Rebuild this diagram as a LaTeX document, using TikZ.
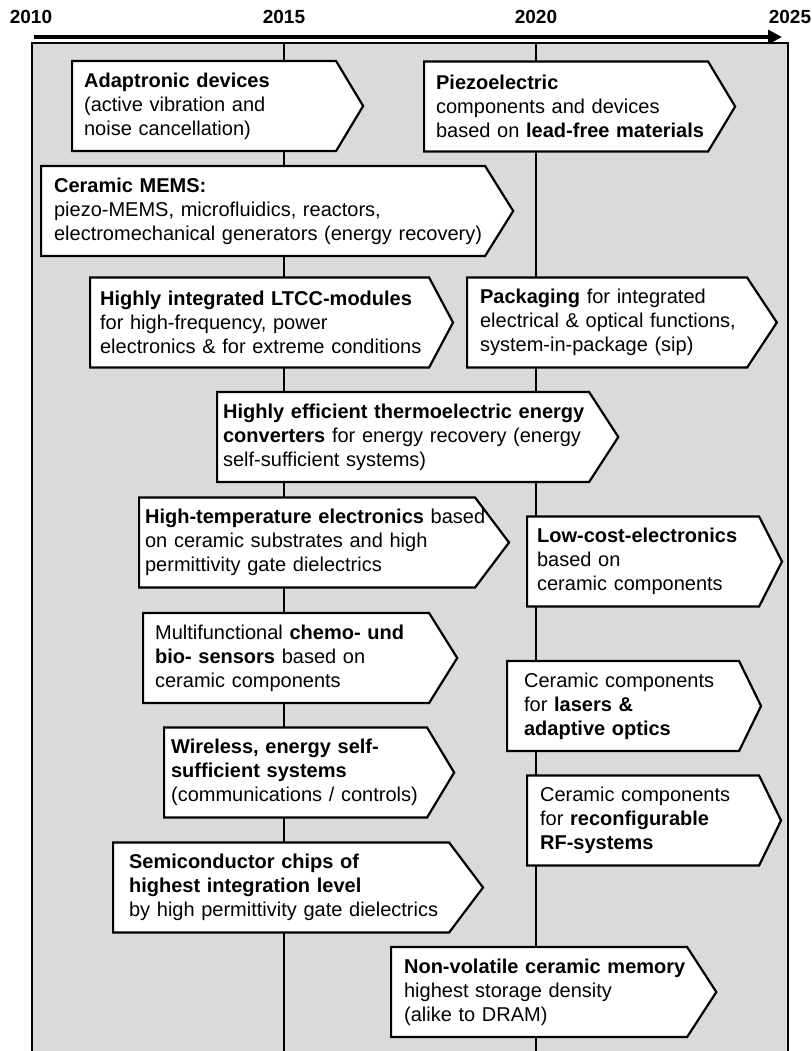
\documentclass[tikz,border=0pt]{standalone}
\usepackage{fontspec}
\setmainfont{Liberation Sans}
\usetikzlibrary{arrows.meta, shapes.symbols}
\definecolor{panelgray}{RGB}{218,218,218}
\tikzset{
    >=Latex,
    font=\fontsize{10}{12}\selectfont,
    tl_box/.style={
        signal,
        signal to=east,
        signal pointer angle=116,
        draw=black,
        fill=white,
        line width=1.1pt,
        anchor=west,
        minimum height=45pt,
        inner ysep=2pt,
        align=left
    },
    tl_year/.style={
        font=\fontsize{9.5}{11}\selectfont\bfseries,
        inner sep=0pt
    },
    tl_frame/.style={
        draw=black,
        line width=1.2pt
    },
    tl_grid/.style={
        draw=black,
        line width=1pt
    },
    tl_arrow/.style={
        -{Triangle[length=7pt, width=7pt]},
        line width=2pt
    }
}

\begin{document}
\begin{tikzpicture}[x=0.5pt, y=-0.5pt]
\useasboundingbox (0,0) rectangle (812,1051);

% --- Time axis ---
\node[tl_year] (y2010) at (31,17) {2010};
\node[tl_year] (y2015) at (284,17) {2015};
\node[tl_year] (y2020) at (536,17) {2020};
\node[tl_year] (y2025) at (790,17) {2025};
\coordinate (axisStart) at (34,37);
\coordinate (axisEnd) at (782,37);
\draw[tl_arrow] (axisStart) -- (axisEnd);

% --- Panel and year lines ---
\coordinate (panelTL) at (32,43);
\coordinate (panelTR) at (788,43);
\coordinate (panelBL) at (32,1051);
\coordinate (panelBR) at (788,1051);
\coordinate (top2015) at (284,43);
\coordinate (bot2015) at (284,1051);
\coordinate (top2020) at (536,43);
\coordinate (bot2020) at (536,1051);
\fill[panelgray] (panelTL) rectangle (panelBR);
\draw[tl_grid] (top2015) -- (bot2015);
\draw[tl_grid] (top2020) -- (bot2020);
\draw[tl_frame] (panelBL) -- (panelTL) -- (panelTR) -- (panelBR);

% --- Top row ---
\node[tl_box, inner xsep=6pt, text width=120pt, signal pointer angle=118] (Adaptronic) at (71,106)
    {\textbf{Adaptronic devices}\\(active vibration and\\noise cancellation)};
\node[tl_box, inner xsep=6pt, text width=130pt, signal pointer angle=118] (Piezo) at (423,106.5)
    {\textbf{Piezoelectric}\\components and devices\\\mbox{based on \textbf{lead-free materials}}};
\node[tl_box, inner xsep=6.5pt, text width=209pt] (CeramicMEMS) at (40,211)
    {\textbf{Ceramic MEMS:}\\piezo-MEMS, microfluidics, reactors,\\\mbox{electromechanical generators (energy recovery)}};

% --- Middle ---
\node[tl_box, inner xsep=5pt, text width=159.5pt, signal pointer angle=124] (LTCC) at (89,322.5)
    {\mbox{\textbf{Highly integrated LTCC-modules}}\\for high-frequency, power\\\mbox{electronics \& for extreme conditions}};
\node[tl_box, inner xsep=6.5pt, text width=127pt, signal pointer angle=113] (Packaging) at (466,322.5)
    {\textbf{Packaging} for integrated\\\mbox{electrical \& optical functions,}\\system-in-package (sip)};
\node[tl_box, inner xsep=3pt, text width=180pt, signal pointer angle=114] (Thermo) at (216,437)
    {\mbox{\textbf{Highly efficient thermoelectric energy}}\\\mbox{\textbf{converters} for energy recovery (energy}\\self-sufficient systems)};
\node[tl_box, inner xsep=3pt, text width=162pt, signal pointer angle=106] (HighTemp) at (138,542.5)
    {\mbox{\textbf{High-temperature electronics} based}\\on ceramic substrates and high\\permittivity gate dielectrics};
\node[tl_box, inner xsep=5pt, text width=106pt, signal pointer angle=126] (LowCost) at (526,561.5)
    {\textbf{Low-cost-electronics}\\based on\\ceramic components};

% --- Lower ---
\node[tl_box, inner xsep=6pt, text width=131pt] (Sensors) at (142,658)
    {Multifunctional \textbf{chemo- und}\\\textbf{bio- sensors} based on\\ceramic components};
\node[tl_box, inner xsep=8.5pt, text width=99pt, signal pointer angle=128] (Lasers) at (506,706)
    {Ceramic components\\for \textbf{lasers \&}\\\textbf{adaptive optics}};
\node[tl_box, inner xsep=3.5pt, text width=124.5pt, signal pointer angle=118] (Wireless) at (163,772.5)
    {\textbf{Wireless, energy self-}\\\textbf{sufficient systems}\\\mbox{(communications / controls)}};
\node[tl_box, inner xsep=6.5pt, text width=103pt, signal pointer angle=128] (RFSystems) at (526,820.5)
    {Ceramic components\\for \textbf{reconfigurable}\\\textbf{RF-systems}};
\node[tl_box, inner xsep=8pt, text width=152pt, signal pointer angle=106] (SemiChips) at (112,887.5)
    {\textbf{Semiconductor chips of}\\\textbf{highest integration level}\\\mbox{by high permittivity gate dielectrics}};
\node[tl_box, inner xsep=6.5pt, text width=135pt, signal pointer angle=114] (NVMemory) at (390,992)
    {\mbox{\textbf{Non-volatile ceramic memory}}\\highest storage density\\(alike to DRAM)};

\end{tikzpicture}
\end{document}
